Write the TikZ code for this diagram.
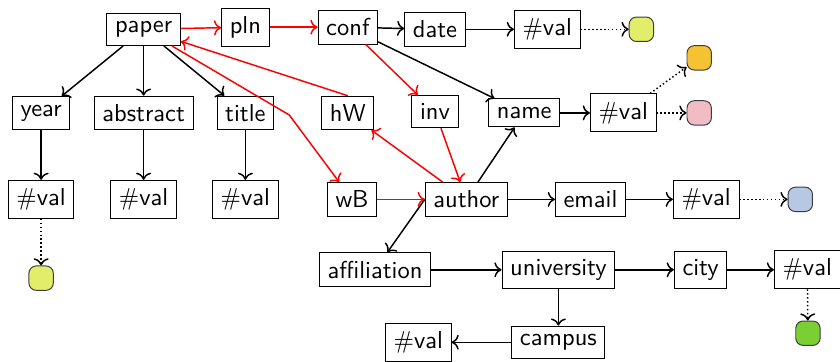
\documentclass[tikz,border=0pt]{standalone}
\usepackage{tikz}
\usetikzlibrary{arrows.meta, positioning}
\definecolor{leafyellow}{RGB}{226,238,106}
\definecolor{leaforange}{RGB}{244,194,50}
\definecolor{leafpink}{RGB}{242,188,196}
\definecolor{leafblue}{RGB}{182,200,228}
\definecolor{leafgreen}{RGB}{122,207,50}
\definecolor{leafline}{RGB}{60,60,60}

\begin{document}
\begin{tikzpicture}[font=\sffamily,
    box/.style={draw, rectangle, fill=white},
    leaf/.style={draw=leafline, rounded corners=3pt, minimum size=0.35cm, inner sep=0pt},
    edge/.style={->, semithick},
    redge/.style={->, semithick, red},
    dotedge/.style={->, semithick, densely dotted}]

\useasboundingbox (0,0) rectangle (12.05,-5.18);

% === paper and its fields ===
\node[box] (paper) at (2.06,-0.42) {paper};
\node[box] (pln) at (3.52,-0.39) {pln};
\node[box] (conf) at (4.99,-0.39) {conf};
\node[box] (date) at (6.24,-0.42) {date};
\node[box] (dateval) at (7.85,-0.42) {\#val};
\node[leaf, fill=leafyellow] (dotdate) at (9.20,-0.42) {};

\node[box] (year) at (0.59,-1.62) {year};
\node[box] (abstract) at (2.06,-1.62) {abstract};
\node[box] (title) at (3.52,-1.62) {title};
\node[box] (yearval) at (0.59,-2.86) {\#val};
\node[box] (abstractval) at (2.06,-2.86) {\#val};
\node[box] (titleval) at (3.52,-2.86) {\#val};
\node[leaf, fill=leafyellow] (dotyear) at (0.59,-3.99) {};

% === author side ===
\node[box] (hW) at (4.99,-1.62) {hW};
\node[box] (inv) at (6.24,-1.60) {inv};
\node[box] (name) at (7.52,-1.62) {name};
\node[box] (nameval) at (8.94,-1.62) {\#val};
\node[leaf, fill=leaforange] (dotorange) at (10.03,-0.83) {};
\node[leaf, fill=leafpink] (dotpink) at (10.03,-1.62) {};

\node[box] (wB) at (5.05,-2.86) {wB};
\node[box] (author) at (6.69,-2.86) {author};
\node[box] (email) at (8.47,-2.86) {email};
\node[box] (emailval) at (10.13,-2.86) {\#val};
\node[leaf, fill=leafblue] (dotblue) at (11.48,-2.86) {};

% === affiliation ===
\node[box] (affiliation) at (5.38,-3.87) {affiliation};
\node[box] (university) at (8.01,-3.87) {university};
\node[box] (city) at (10.05,-3.87) {city};
\node[box] (cityval) at (11.58,-3.87) {\#val};
\node[leaf, fill=leafgreen] (dotgreen) at (11.59,-4.78) {};
\node[box] (campus) at (8.01,-4.91) {campus};
\node[box] (campusval) at (6.00,-4.91) {\#val};

\coordinate (bendB) at (4.15,-1.65);

% black edges
\draw[edge] (conf) -- (date);
\draw[edge] (date) -- (dateval);
\draw[edge] (paper) -- (year);
\draw[edge] (paper) -- (abstract);
\draw[edge] (paper) -- (title);
\draw[edge] (year) -- (yearval);
\draw[edge] (abstract) -- (abstractval);
\draw[edge] (title) -- (titleval);
\draw[edge] (conf) -- (name);
\draw[edge] (author) -- (name);
\draw[edge] (name) -- (nameval);
\draw[edge] (author) -- (email);
\draw[edge] (email) -- (emailval);
\draw[edge] (author.west) -- (affiliation);
\draw[edge] (affiliation) -- (university);
\draw[edge] (university) -- (city);
\draw[edge] (city) -- (cityval);
\draw[edge] (university) -- (campus);
\draw[edge] (campus) -- (campusval);

% red edges
\draw[redge] (paper) -- (pln);
\draw[redge] (pln) -- (conf);
\draw[redge] (conf) -- (inv);
\draw[redge] (inv) -- (author);
\draw[redge] (author) -- (hW);
\draw[redge] (hW.north) -- (paper);
\draw[redge] (paper) -- (bendB) -- (wB);
\draw[redge] (wB) -- (author);

% dotted edges to leaves
\draw[dotedge] (dateval) -- (dotdate);
\draw[dotedge] (yearval) -- (dotyear);
\draw[dotedge] (nameval) -- (dotorange);
\draw[dotedge] (nameval) -- (dotpink);
\draw[dotedge] (emailval) -- (dotblue);
\draw[dotedge] (cityval) -- (dotgreen);

\end{tikzpicture}
\end{document}
